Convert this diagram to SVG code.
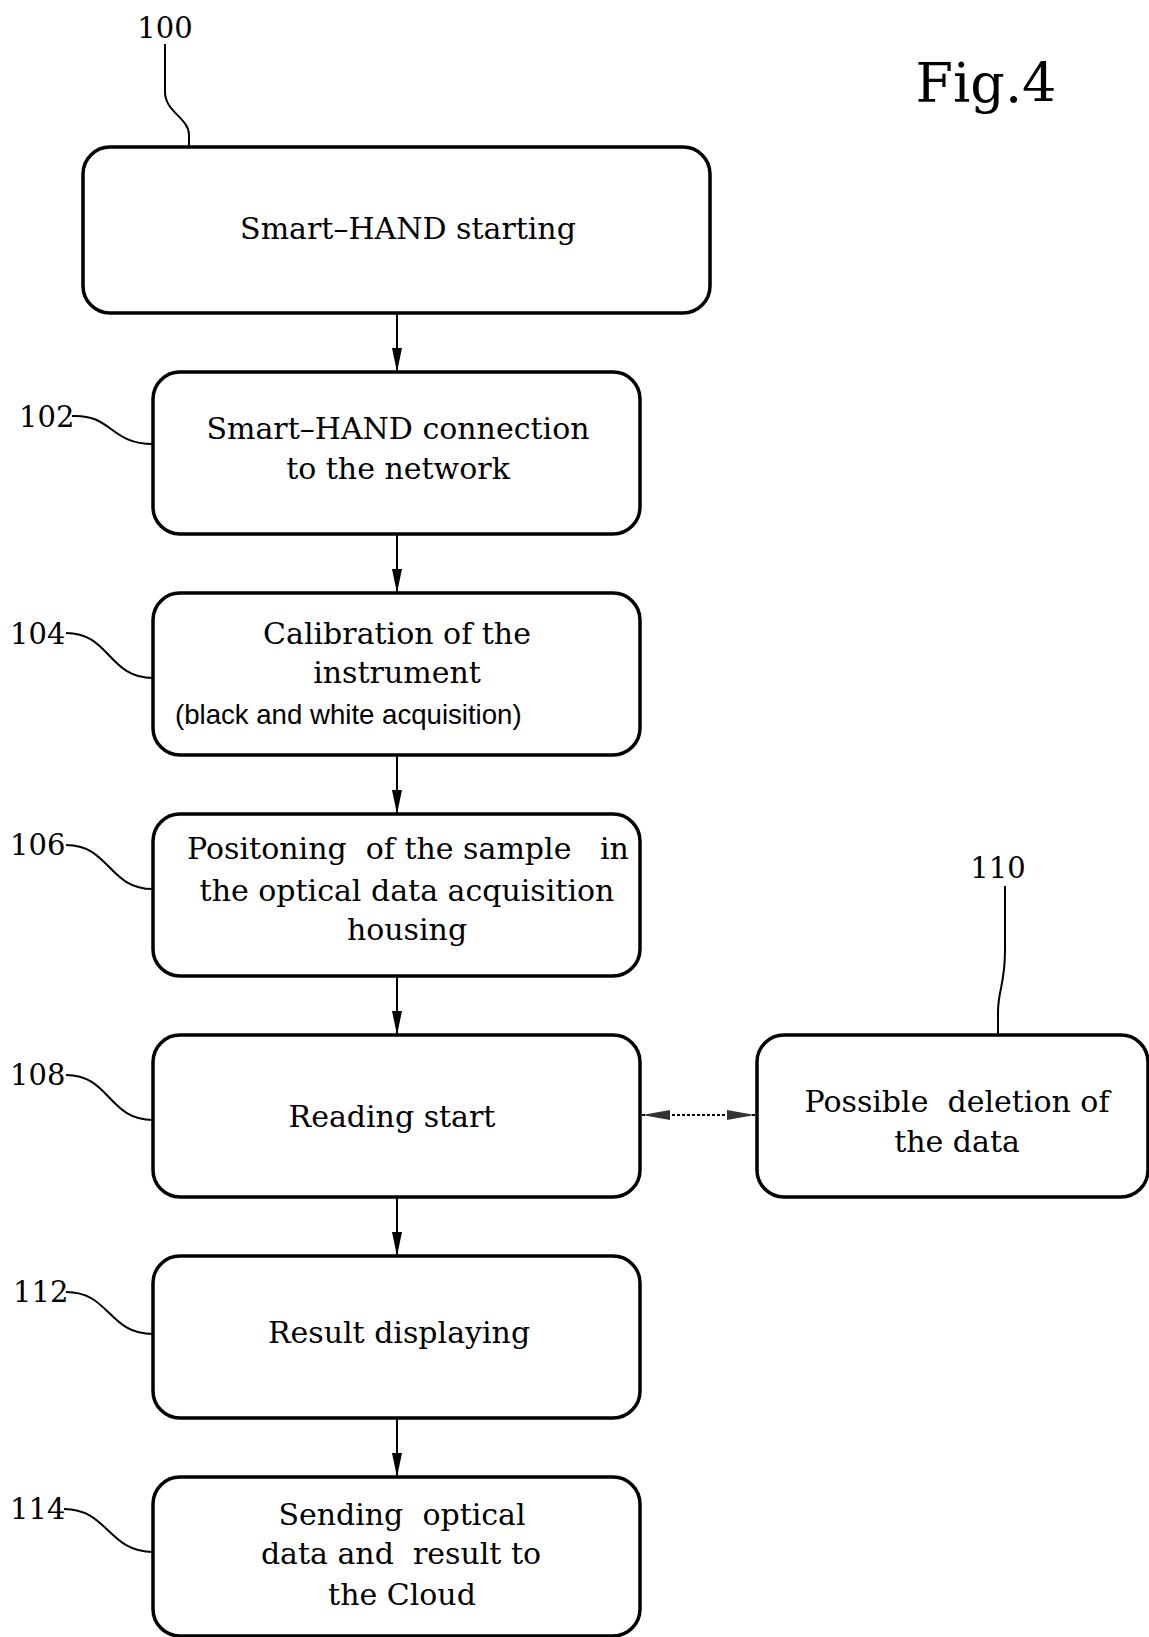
<svg xmlns="http://www.w3.org/2000/svg" width="1149" height="1637" viewBox="0 0 1149 1637">
<style>
.box{fill:#fff;stroke:#000;stroke-width:3.5}
.t{font-family:"DejaVu Serif","Liberation Serif",serif;font-size:30px;fill:#000;text-anchor:middle;white-space:pre}
.s{font-family:"Liberation Sans","DejaVu Sans",sans-serif;font-size:27.6px;fill:#000;white-space:pre}
.lbl{font-family:"DejaVu Serif","Liberation Serif",serif;font-size:29px;fill:#000;white-space:pre}
.lead{fill:none;stroke:#000;stroke-width:2}
.flow{fill:none;stroke:#000;stroke-width:2}
.dot{fill:none;stroke:#000;stroke-width:2;stroke-dasharray:3 2}
</style>
<defs>
<marker id="ah" viewBox="0 0 24 10" refX="24" refY="5" markerWidth="24" markerHeight="10" markerUnits="userSpaceOnUse" orient="auto">
<path d="M0,0 L24,5 L0,10 Z" fill="#000"/>
</marker>
<marker id="dh" viewBox="0 0 28 10" refX="28" refY="5" markerWidth="28" markerHeight="10" markerUnits="userSpaceOnUse" orient="auto-start-reverse">
<path d="M0,0 L28,5 L0,10 Z" fill="#333"/>
</marker>
</defs>
<text x="986" y="102" style="font-family:'DejaVu Serif','Liberation Serif',serif;font-size:54px;fill:#000" text-anchor="middle">Fig.4</text>
<g id="node-100">
<rect class="box" x="83" y="147" width="627" height="166" rx="27"/>
<text class="t" x="408" y="239">Smart–HAND starting</text>
<text class="lbl" x="165" y="38" text-anchor="middle">100</text>
<path class="lead" d="M165,44 L165,92 C165,112 189,118 189,135 L189,147"/>
</g>
<g id="node-102">
<rect class="box" x="153" y="372" width="487" height="162" rx="27"/>
<text class="t" x="398" y="439">Smart–HAND connection</text>
<text class="t" x="398" y="479">to the network</text>
<text class="lbl" x="19" y="427">102</text>
<path class="lead" d="M72,416 C112,414 110,444 153,444"/>
</g>
<g id="node-104">
<rect class="box" x="153" y="593" width="487" height="162" rx="27"/>
<text class="t" x="397" y="644">Calibration of the</text>
<text class="t" x="397" y="683">instrument</text>
<text class="s" x="175" y="724">(black and white acquisition)</text>
<text class="lbl" x="10" y="644">104</text>
<path class="lead" d="M66,633 C110,633 108,678 153,678"/>
</g>
<g id="node-106">
<rect class="box" x="153" y="814" width="487" height="162" rx="27"/>
<text class="t" x="408" y="859">Positoning  of the sample   in</text>
<text class="t" x="407" y="901">the optical data acquisition</text>
<text class="t" x="407" y="940">housing</text>
<text class="lbl" x="10" y="855">106</text>
<path class="lead" d="M66,845 C110,845 108,889 153,889"/>
</g>
<g id="node-108">
<rect class="box" x="153" y="1035" width="487" height="162" rx="27"/>
<text class="t" x="392" y="1127">Reading start</text>
<text class="lbl" x="10" y="1085">108</text>
<path class="lead" d="M66,1075 C110,1075 108,1120 153,1120"/>
</g>
<g id="node-110">
<rect class="box" x="757" y="1035" width="391" height="162" rx="27"/>
<text class="t" x="957" y="1112">Possible  deletion of</text>
<text class="t" x="957" y="1152">the data</text>
<text class="lbl" x="998" y="878" text-anchor="middle">110</text>
<path class="lead" d="M1005,886 L1005,950 C1005,985 998,990 998,1012 L998,1035"/>
</g>
<g id="node-112">
<rect class="box" x="153" y="1256" width="487" height="162" rx="27"/>
<text class="t" x="399" y="1343">Result displaying</text>
<text class="lbl" x="13" y="1302">112</text>
<path class="lead" d="M66,1292 C110,1292 108,1334 153,1334"/>
</g>
<g id="node-114">
<rect class="box" x="153" y="1477" width="487" height="159" rx="27"/>
<text class="t" x="402" y="1525">Sending  optical</text>
<text class="t" x="401" y="1564">data and  result to</text>
<text class="t" x="402" y="1605">the Cloud</text>
<text class="lbl" x="10" y="1519">114</text>
<path class="lead" d="M64,1509 C108,1509 108,1552 153,1552"/>
</g>
<g id="connectors">
<line class="flow" x1="397" y1="313" x2="397" y2="372" marker-end="url(#ah)"/>
<line class="flow" x1="397" y1="534" x2="397" y2="593" marker-end="url(#ah)"/>
<line class="flow" x1="397" y1="755" x2="397" y2="814" marker-end="url(#ah)"/>
<line class="flow" x1="397" y1="976" x2="397" y2="1035" marker-end="url(#ah)"/>
<line class="flow" x1="397" y1="1197" x2="397" y2="1256" marker-end="url(#ah)"/>
<line class="flow" x1="397" y1="1418" x2="397" y2="1477" marker-end="url(#ah)"/>
<line class="dot" x1="642" y1="1115" x2="755" y2="1115" marker-start="url(#dh)" marker-end="url(#dh)"/>
</g>
</svg>
